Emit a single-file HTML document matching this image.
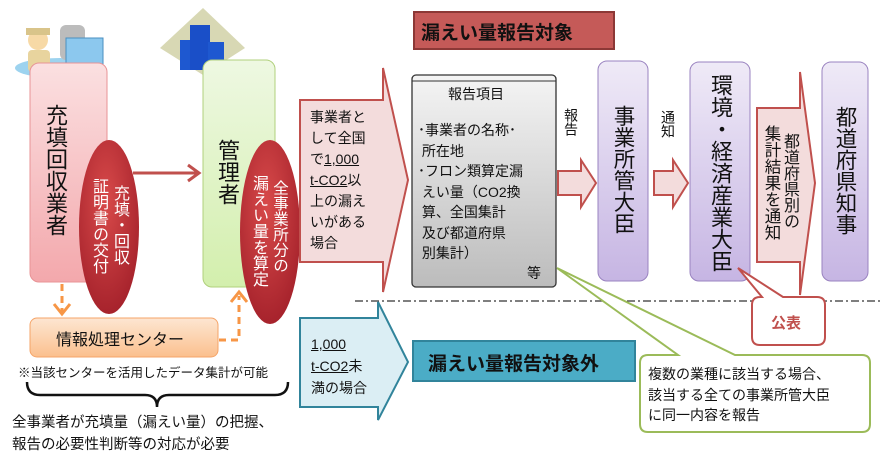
<!DOCTYPE html>
<html><head><meta charset="utf-8">
<style>
body{margin:0;background:#fff;}
#w{position:relative;width:892px;height:468px;overflow:hidden;font-family:"Liberation Sans","Noto Sans CJK JP",sans-serif;color:#111;}
.v{position:absolute;writing-mode:vertical-rl;white-space:nowrap;}
.t{position:absolute;white-space:nowrap;}
svg{position:absolute;left:0;top:0;}
</style></head><body><div id="w">
<svg width="892" height="468" viewBox="0 0 892 468">
<defs>
<linearGradient id="pk" x1="0" y1="0" x2="0" y2="1"><stop offset="0" stop-color="#fbe0e1"/><stop offset="1" stop-color="#f3a8ac"/></linearGradient>
<linearGradient id="gr" x1="0" y1="0" x2="0" y2="1"><stop offset="0" stop-color="#eef8e2"/><stop offset="1" stop-color="#d3efad"/></linearGradient>
<linearGradient id="pu" x1="0" y1="0" x2="0" y2="1"><stop offset="0" stop-color="#efeaf7"/><stop offset="1" stop-color="#c6b5e3"/></linearGradient>
<linearGradient id="gy" x1="0" y1="0" x2="0" y2="1"><stop offset="0" stop-color="#f4f4f4"/><stop offset="1" stop-color="#bcbcbc"/></linearGradient>
<linearGradient id="or" x1="0" y1="0" x2="0" y2="1"><stop offset="0" stop-color="#fde6d2"/><stop offset="1" stop-color="#fbc08e"/></linearGradient>
<radialGradient id="rd" cx="0.45" cy="0.35" r="0.7"><stop offset="0" stop-color="#d84a4a"/><stop offset="1" stop-color="#a3202a"/></radialGradient>
</defs>
<!-- worker illustration -->
<ellipse cx="60" cy="68" rx="45" ry="10" fill="#9dd3ef"/>
<rect x="60" y="25" width="25" height="35" rx="6" fill="#bcbcbc"/>
<rect x="66" y="38" width="37" height="36" fill="#8cc8ee" stroke="#4a8fc0"/>
<circle cx="38" cy="40" r="10" fill="#f7d9a6"/><rect x="26" y="28" width="24" height="7" fill="#d9c48a"/>
<rect x="28" y="50" width="22" height="22" rx="4" fill="#e8d49e"/>
<!-- building -->
<polygon points="203,8 245,48 203,75 160,48" fill="#d8d8b4"/>
<rect x="180" y="40" width="12" height="30" fill="#1e58d0"/><rect x="190" y="25" width="20" height="45" fill="#1a4fc8"/><rect x="208" y="42" width="16" height="28" fill="#1e58d0"/>
<!-- pink box -->
<rect x="30" y="63" width="77" height="219" rx="9" fill="url(#pk)" stroke="#e89396"/>
<!-- green box -->
<rect x="203" y="60" width="72" height="227" rx="9" fill="url(#gr)" stroke="#b0d07c"/>
<!-- red arrow -->
<line x1="133" y1="173" x2="198" y2="173" stroke="#c0504d" stroke-width="3"/>
<polyline points="188,165 199,173 188,181" fill="none" stroke="#c0504d" stroke-width="3"/>
<!-- ellipses -->
<ellipse cx="109" cy="227" rx="30" ry="87" fill="url(#rd)"/>
<ellipse cx="270" cy="232" rx="30" ry="92" fill="url(#rd)"/>
<!-- orange dashed -->
<line x1="62" y1="284" x2="62" y2="312" stroke="#f79646" stroke-width="3" stroke-dasharray="7,5"/>
<polyline points="54,304 62,314 70,304" fill="none" stroke="#f79646" stroke-width="3"/>
<polyline points="219,340 239,340 239,296" fill="none" stroke="#f79646" stroke-width="3" stroke-dasharray="7,5"/>
<polyline points="231,302 239,292 247,302" fill="none" stroke="#f79646" stroke-width="3"/>
<rect x="30" y="318" width="188" height="39" rx="7" fill="url(#or)" stroke="#f5a468"/>
<!-- brace -->
<path d="M27,382 Q27,395 40,395 L145,395 Q157,395 157,407 Q157,395 169,395 L275,395 Q288,395 288,382" fill="none" stroke="#111" stroke-width="2.5"/>
<!-- big pink arrow -->
<polygon points="300,100 383,100 383,68 408,180 383,292 383,262 300,262" fill="#f3dcdc" stroke="#c0504d" stroke-width="2"/>
<!-- scroll -->
<rect x="412" y="75" width="144" height="212" rx="4" fill="url(#gy)" stroke="#333" stroke-width="1.3"/>
<line x1="412" y1="81" x2="556" y2="81" stroke="#333"/>
<!-- small arrows -->
<polygon points="558,171 581,171 581,160 596,183 581,207 581,195 558,195" fill="#f3dcdc" stroke="#c0504d" stroke-width="2"/>
<polygon points="654,171 673,171 673,160 688,183 673,207 673,195 654,195" fill="#f3dcdc" stroke="#c0504d" stroke-width="2"/>
<!-- purple boxes -->
<rect x="598" y="61" width="50" height="220" rx="9" fill="url(#pu)" stroke="#9a83c0"/>
<rect x="690" y="62" width="60" height="219" rx="9" fill="url(#pu)" stroke="#9a83c0"/>
<rect x="822" y="62" width="46" height="219" rx="9" fill="url(#pu)" stroke="#9a83c0"/>
<!-- right pink arrow -->
<polygon points="757,108 800,108 800,72 815,183 800,295 800,262 757,262" fill="#f3dcdc" stroke="#c0504d" stroke-width="2"/>
<!-- dash-dot line -->
<line x1="355" y1="301" x2="882" y2="301" stroke="#333" stroke-width="1.2" stroke-dasharray="8,3,2,3"/>
<!-- 公表 callout -->
<path d="M762,297 L738,268 L783,297 L817,297 Q825,297 825,305 L825,337 Q825,345 817,345 L760,345 Q752,345 752,337 L752,305 Q752,297 760,297 Z" fill="#fff" stroke="#c0504d" stroke-width="2"/>
<!-- blue arrow -->
<polygon points="300,318 378,318 378,302 408,362 378,420 378,407 300,407" fill="#dbeef4" stroke="#31849b" stroke-width="2"/>
<rect x="413" y="341" width="222" height="40" fill="#4bacc6" stroke="#31849b" stroke-width="2"/>
<rect x="414" y="12" width="200" height="37" fill="#c55a58" stroke="#8c3836" stroke-width="2"/>
<!-- green callout -->
<path d="M650,355 L678,355 L557,268 L735,355 L862,355 Q870,355 870,363 L870,424 Q870,432 862,432 L648,432 Q640,432 640,424 L640,363 Q640,355 648,355 Z" fill="#fff" stroke="#9bbb59" stroke-width="2"/>
</svg>

<div class="v" style="left:42px;top:104px;font-size:22px;line-height:26px;">充填回収業者</div>
<div class="v" style="left:214px;top:139px;font-size:22px;line-height:26px;">管理者</div>
<div class="v" style="left:110px;top:185px;font-size:16px;line-height:18px;color:#fff;">充填・回収</div>
<div class="v" style="left:89px;top:178px;font-size:16px;line-height:18px;color:#fff;">証明書の交付</div>
<div class="v" style="left:270px;top:180px;font-size:15.5px;line-height:18px;color:#fff;">全事業所分の</div>
<div class="v" style="left:249px;top:175px;font-size:16px;line-height:18px;color:#fff;">漏えい量を算定</div>
<div class="t" style="left:56px;top:326px;font-size:16px;">情報処理センター</div>
<div class="t" style="left:18px;top:362px;font-size:12.5px;">※当該センターを活用したデータ集計が可能</div>
<div class="t" style="left:12px;top:412px;font-size:14.5px;line-height:22px;">全事業者が充填量（漏えい量）の把握、<br>報告の必要性判断等の対応が必要</div>
<div class="t" style="left:421px;top:18px;font-size:19px;font-weight:bold;">漏えい量報告対象</div>
<div class="t" style="left:310px;top:107px;font-size:14px;line-height:21px;">事業者と<br>して全国<br>で<u>1,000</u><br><u>t-CO2</u>以<br>上の漏え<br>いがある<br>場合</div>
<div class="t" style="left:448px;top:84px;font-size:14px;">報告項目</div>
<div class="t" style="left:418px;top:120px;font-size:14px;line-height:20.5px;">･事業者の名称･<br>&nbsp;所在地<br>･フロン類算定漏<br>&nbsp;えい量（CO2換<br>&nbsp;算、全国集計<br>&nbsp;及び都道府県<br>&nbsp;別集計）</div>
<div class="t" style="left:527px;top:263px;font-size:14px;">等</div>
<div class="v" style="left:563px;top:108px;font-size:14px;line-height:16px;">報告</div>
<div class="v" style="left:660px;top:110px;font-size:14px;line-height:16px;">通知</div>
<div class="v" style="left:610px;top:105px;font-size:21.5px;line-height:26px;">事業所管大臣</div>
<div class="v" style="left:707px;top:74px;font-size:22px;line-height:26px;">環境・経済産業大臣</div>
<div class="v" style="left:832px;top:106px;font-size:21.5px;line-height:26px;">都道府県知事</div>
<div class="v" style="left:781px;top:133px;font-size:16px;line-height:17px;">都道府県別の</div>
<div class="v" style="left:762px;top:125px;font-size:16.5px;line-height:17px;">集計結果を通知</div>
<div class="t" style="left:771px;top:312px;font-size:15px;font-weight:bold;color:#c0504d;">公表</div>
<div class="t" style="left:311px;top:333px;font-size:14px;line-height:22px;"><u>1,000</u><br><u>t-CO2</u>未<br>満の場合</div>
<div class="t" style="left:428px;top:349px;font-size:19px;font-weight:bold;">漏えい量報告対象外</div>
<div class="t" style="left:648px;top:364px;font-size:14px;line-height:20.5px;">複数の業種に該当する場合、<br>該当する全ての事業所管大臣<br>に同一内容を報告</div>
</div></body></html>
